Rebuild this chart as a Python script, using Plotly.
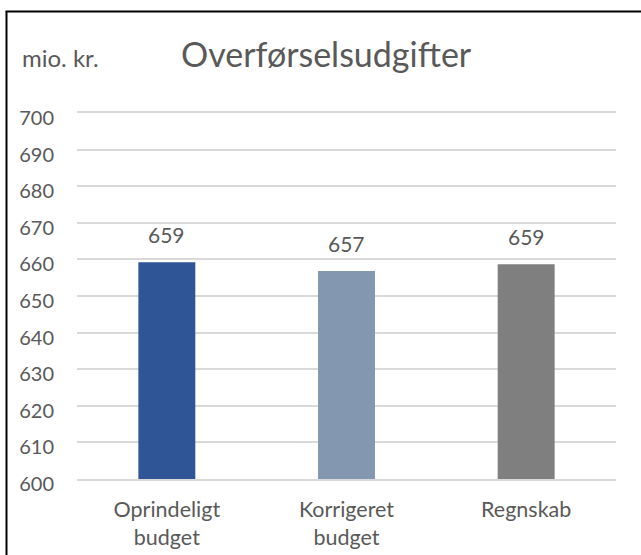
import plotly.graph_objects as go

categories = ["Oprindeligt<br>budget", "Korrigeret<br>budget", "Regnskab"]
values = [659.2, 656.8, 658.7]
bar_colors = ["#2F5597", "#8497B0", "#7F7F7F"]
y_ticks = list(range(600, 701, 10))
title_text = "Overførselsudgifter"
unit_text = "mio. kr."

W, H = 641, 555
ML, MR, MT, MB = 77, 25, 113, 76
PW, PH = W - ML - MR, H - MT - MB

def px_x(x):
    return (x - ML) / PW

def px_y(y):
    return 1 - (y - MT) / PH

FONT = "Lato"
TXT = "#595959"

fig = go.Figure(go.Bar(
    x=categories, y=values, marker_color=bar_colors, width=0.317,
    hoverinfo="skip",
))

annotations = []
for c, v in zip(categories, values):
    annotations.append(dict(x=c, y=v, xref="x", yref="y", text=f"{v:.0f}",
                            showarrow=False, yanchor="bottom", yshift=13,
                            font=dict(family=FONT, size=21, color=TXT)))
annotations.append(dict(x=px_x(326), y=px_y(54), xref="paper", yref="paper",
                        text=title_text, showarrow=False, xanchor="center",
                        yanchor="middle", font=dict(family=FONT, size=34, color=TXT)))
annotations.append(dict(x=px_x(20), y=px_y(57), xref="paper", yref="paper",
                        text=unit_text, showarrow=False, xanchor="left",
                        yanchor="middle", font=dict(family=FONT, size=24, color=TXT)))

frame = dict(color="black", width=2)
fig.update_layout(
    template="none",
    width=W, height=H,
    margin=dict(l=ML, r=MR, t=MT, b=MB, autoexpand=False),
    paper_bgcolor="white", plot_bgcolor="white",
    showlegend=False,
    annotations=annotations,
    shapes=[
        dict(type="line", xref="paper", yref="paper",
             x0=px_x(6.5), x1=px_x(6.5), y0=px_y(560), y1=px_y(11.5), line=frame),
        dict(type="line", xref="paper", yref="paper",
             x0=px_x(5.5), x1=px_x(645), y0=px_y(11.5), y1=px_y(11.5), line=frame),
    ],
    font=dict(family=FONT, size=20, color=TXT),
)
fig.update_yaxes(range=[600, 700], tickvals=y_ticks, showgrid=True,
                 gridcolor="#D9D9D9", gridwidth=1.5, zeroline=False,
                 showline=False, ticks="", automargin=False,
                 ticklabelstandoff=22, ticklabelshift=5,
                 tickfont=dict(family=FONT, size=20, color=TXT))
fig.update_xaxes(showgrid=False, showline=True, mirror=True,
                 linecolor="#D9D9D9", linewidth=1.5, ticks="", automargin=False,
                 ticklabelstandoff=10,
                 tickfont=dict(family=FONT, size=21.5, color=TXT))

fig.write_html("out.html", config={"displayModeBar": False},
               post_script="document.body.style.margin='0';document.body.style.overflow='hidden';")
